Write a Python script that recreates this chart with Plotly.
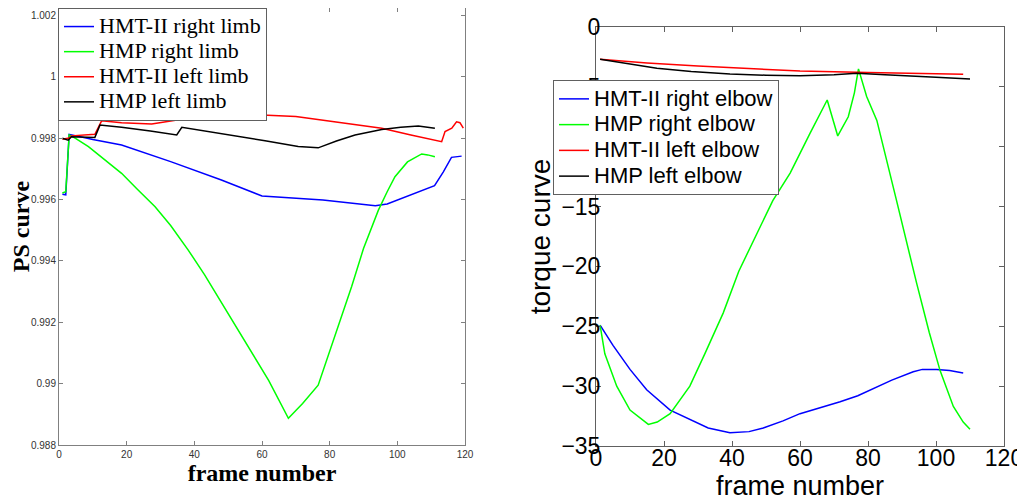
import plotly.graph_objects as go

# ---------------- Left panel data (PS curve) ----------------
l_blue_x = [1, 2, 3, 10, 18.5, 33, 48, 60, 78, 93.5, 97, 103, 111, 113.6, 116, 119]
l_blue_y = [0.99617, 0.99615, 0.99812, 0.99795, 0.99777, 0.99723, 0.99663, 0.99611,
            0.99598, 0.99579, 0.99585, 0.99610, 0.99645, 0.99690, 0.99737, 0.99741]

l_green_x = [1, 2, 3, 5, 8.7, 13, 18.5, 23, 28.4, 33, 38.2, 43, 48.1, 53, 57.9, 62,
             67.8, 72, 76.6, 81, 86.5, 90, 94.4, 97, 99.3, 103, 107.2, 109, 111.1]
l_green_y = [0.99621, 0.99625, 0.99810, 0.99798, 0.99772, 0.99735, 0.99685, 0.99635,
             0.99576, 0.99515, 0.99435, 0.99355, 0.99262, 0.99175, 0.99088, 0.99010,
             0.98887, 0.98935, 0.98995, 0.99140, 0.99316, 0.99440, 0.99565, 0.99625,
             0.99674, 0.99722, 0.99748, 0.99745, 0.99739]

l_red_x = [1, 3, 3.7, 10.6, 12.6, 18.5, 27.4, 38.2, 50, 60, 70, 77.7, 86, 95.4, 104,
           113.1, 114.1, 116.1, 117.5, 118.5, 119.5]
l_red_y = [0.99796, 0.99800, 0.99807, 0.99812, 0.99856, 0.99850, 0.99846, 0.99864,
           0.99872, 0.99875, 0.99870, 0.99859, 0.99846, 0.99832, 0.99810, 0.99788,
           0.99821, 0.99832, 0.99853, 0.99850, 0.99832]

l_black_x = [1, 2.7, 3.7, 10.6, 12.1, 18.5, 27, 34.8, 36.3, 45, 55, 60.9, 70.7, 76.6,
             82, 87.5, 95.4, 101, 106.2, 111.1]
l_black_y = [0.99799, 0.99793, 0.99804, 0.99802, 0.99842, 0.99835, 0.99823, 0.99810,
             0.99835, 0.99820, 0.99802, 0.99791, 0.99772, 0.99768, 0.99790, 0.99810,
             0.99828, 0.99835, 0.99839, 0.99832]

l_names = ["HMT-II right limb", "HMP right limb", "HMT-II left limb", "HMP left limb"]
l_yticks = [0.988, 0.99, 0.992, 0.994, 0.996, 0.998, 1.0, 1.002]
l_yticktext = ["0.988", "0.99", "0.992", "0.994", "0.996", "0.998", "1", "1.002"]
x_ticks = [0, 20, 40, 60, 80, 100, 120]

# ---------------- Right panel data (torque curve) ----------------
r_blue_x = [1.2, 5, 10, 14.9, 21.8, 27.6, 33, 39.4, 45, 49.2, 55, 60, 66, 71.8, 77,
            81.6, 87, 93.3, 96, 100.2, 104, 108]
r_blue_y = [-24.9, -26.6, -28.6, -30.3, -32.0, -32.8, -33.5, -33.9, -33.8, -33.5,
            -32.9, -32.3, -31.8, -31.3, -30.8, -30.2, -29.5, -28.8, -28.6, -28.6,
            -28.7, -28.9]

r_green_x = [1.2, 2.6, 6.1, 10, 15.4, 18, 21.8, 27.6, 32, 37.4, 42, 47.3, 52, 57.1,
             60, 62.9, 68, 71.1, 74.2, 76, 77.2, 79.6, 82.6, 85, 88.4, 94.3, 98,
             101.2, 105.1, 108, 110]
r_green_y = [-24.9, -27.3, -30.0, -32.0, -33.2, -33.0, -32.3, -30.0, -27.3, -23.9,
             -20.4, -17.2, -14.5, -12.2, -10.5, -8.9, -6.1, -9.1, -7.5, -5.5, -3.5,
             -5.8, -7.8, -10.5, -14.5, -21.4, -25.5, -28.7, -31.7, -33.0, -33.6]

r_red_x = [1.2, 15, 30, 45, 60, 80, 108]
r_red_y = [-2.7, -3.0, -3.25, -3.48, -3.68, -3.8, -3.95]

r_black_x = [1.2, 10, 17.9, 28, 39.4, 50, 60, 70, 76.7, 85, 91.4, 100, 110]
r_black_y = [-2.7, -3.1, -3.45, -3.72, -3.93, -4.03, -4.08, -3.98, -3.87, -3.98,
             -4.09, -4.2, -4.34]

r_names = ["HMT-II right elbow", "HMP right elbow", "HMT-II left elbow", "HMP left elbow"]
r_yticks = [-35, -30, -25, -20, -15, -10, -5, 0]

colors = ["#0000FF", "#00FF00", "#FF0000", "#000000"]

fig = go.Figure()

def big(name):
    return "<span style='font-size:22px'>" + name + "</span>"

left_series = [(l_blue_x, l_blue_y), (l_green_x, l_green_y),
               (l_red_x, l_red_y), (l_black_x, l_black_y)]
for (xs, ys), name, c in zip(left_series, l_names, colors):
    fig.add_trace(go.Scatter(x=xs, y=ys, mode="lines", name=big(name),
                             line=dict(color=c, width=1.5),
                             xaxis="x", yaxis="y", legend="legend"))

right_series = [(r_blue_x, r_blue_y), (r_green_x, r_green_y),
                (r_red_x, r_red_y), (r_black_x, r_black_y)]
for (xs, ys), name, c in zip(right_series, r_names, colors):
    fig.add_trace(go.Scatter(x=xs, y=ys, mode="lines", name=big(name),
                             line=dict(color=c, width=1.5),
                             xaxis="x2", yaxis="y2", legend="legend2"))

# page has an 8px body margin: figure is drawn offset by 8px
OFF = 8
W, H = 1025 - OFF, 502 - OFF
def px_x(p):
    return (p - OFF) / W
def px_y(p):
    return min(1.0, (H - (p - OFF)) / H)

axis_common = dict(showgrid=False, zeroline=False, showline=True, mirror="ticks",
                   ticks="inside", automargin=False)

fig.update_layout(
    width=W, height=H,
    margin=dict(l=0, r=0, t=0, b=0, autoexpand=False),
    paper_bgcolor="white", plot_bgcolor="white",
    xaxis=dict(domain=[px_x(59), px_x(465)], range=[0, 120], tickvals=x_ticks,
               linecolor="#808080", linewidth=1, tickcolor="#808080", ticklen=4,
               tickfont=dict(family="Liberation Sans", size=10, color="#333333"),
               title=dict(text="<b>frame number</b>", standoff=4,
                          font=dict(family="Liberation Serif", size=24, color="black")),
               anchor="y", **axis_common),
    yaxis=dict(domain=[px_y(445), px_y(8)], range=[0.988, 1.002235],
               tickvals=l_yticks, ticktext=l_yticktext,
               linecolor="#808080", linewidth=1, tickcolor="#808080", ticklen=4,
               tickfont=dict(family="Liberation Sans", size=10, color="#333333"),
               title=dict(text="<b>PS curve</b>", standoff=13,
                          font=dict(family="Liberation Serif", size=24, color="black")),
               anchor="x", **axis_common),
    xaxis2=dict(domain=[px_x(596), px_x(1004)], range=[0, 120], tickvals=x_ticks,
                linecolor="#606060", linewidth=1, tickcolor="#606060", ticklen=5,
                ticklabelstandoff=-9,
                tickfont=dict(family="Liberation Sans", size=23, color="black"),
                title=dict(text="frame number", standoff=0,
                           font=dict(family="Liberation Sans", size=27, color="black")),
                anchor="y2", **axis_common),
    yaxis2=dict(domain=[px_y(446), px_y(27)], range=[-35, 0], tickvals=r_yticks,
                linecolor="#606060", linewidth=1, tickcolor="#606060", ticklen=5,
                ticklabelstandoff=-10,
                tickfont=dict(family="Liberation Sans", size=23, color="black"),
                title=dict(text="torque curve", standoff=2,
                           font=dict(family="Liberation Sans", size=28, color="black")),
                anchor="x2", **axis_common),
    legend=dict(x=px_x(58), y=px_y(8), xanchor="left", yanchor="top",
                bgcolor="white", bordercolor="#606060", borderwidth=1,
                font=dict(family="Liberation Serif", size=17, color="black"),
                tracegroupgap=0, itemwidth=30),
    legend2=dict(x=px_x(553), y=px_y(80), xanchor="left", yanchor="top",
                 bgcolor="white", bordercolor="#606060", borderwidth=1,
                 font=dict(family="Liberation Sans", size=17.5, color="black"),
                 tracegroupgap=0, itemwidth=30),
    showlegend=True,
)

fig.write_html("out.html")
